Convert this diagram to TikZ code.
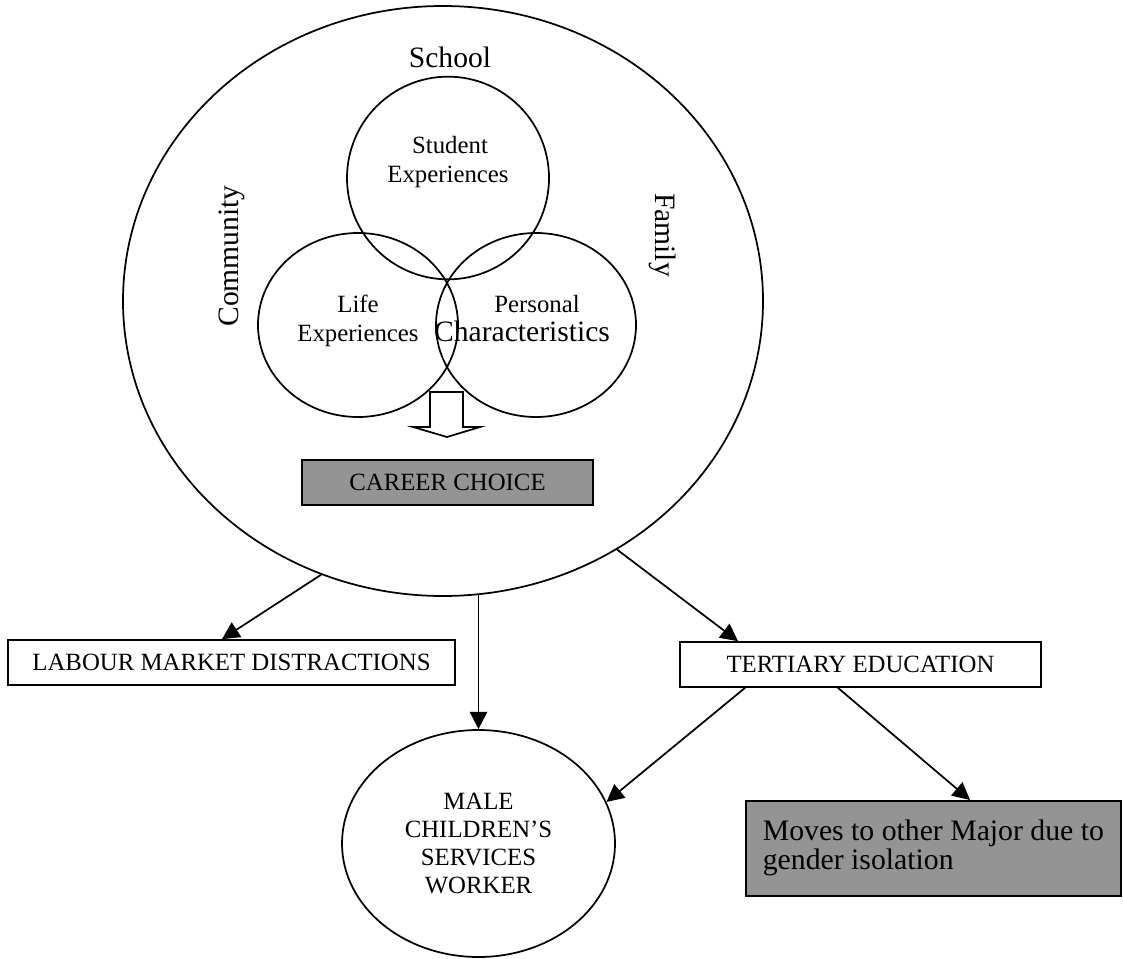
\documentclass[tikz,border=0pt]{standalone}
\usepackage{fontspec}
\setmainfont{Liberation Serif}
\usetikzlibrary{shapes.geometric,arrows.meta,calc}
\begin{document}
\begin{tikzpicture}[x=0.75pt,y=-0.75pt,
  line width=1.3pt,
  venn/.style={draw, ellipse, inner sep=0pt},
  bigtxt/.style={font=\fontsize{22.2pt}{26pt}\selectfont, inner sep=0pt},
  txt/.style={font=\fontsize{18.6pt}{21.2pt}\selectfont, inner sep=0pt},
  outbox/.style={draw, rectangle, minimum height=33.75pt, inner sep=0pt, font=\fontsize{18.6pt}{21.2pt}\selectfont},
  shaded/.style={fill=black!42},
  arr/.style={-{Triangle[length=13pt,width=13pt]}}
]
\useasboundingbox (0,0) rectangle (1123,959);

% outer environment
\node[venn, minimum width=480pt, minimum height=442.5pt] (env) at (443,301) {};

% Venn circles
\node[venn, minimum width=151.5pt, minimum height=152pt] (stu) at (448,178) {};
\node[venn, minimum width=150pt, minimum height=138pt] (life) at (358,325) {};
\node[venn, minimum width=150pt, minimum height=138pt] (pers) at (536,325) {};

% labels
\node[bigtxt, anchor=base] (school) at (450,68) {School};
\node[bigtxt, rotate=90] (comm) at (232,256) {Community};
\node[bigtxt, rotate=-90] (fam) at (663,235) {Family};
\node[txt, anchor=base] (stu1) at (450,154) {Student};
\node[txt, anchor=base] (stu2) at (448,183) {Experiences};
\node[txt, anchor=base] (life1) at (358,312) {Life};
\node[txt, anchor=base] (life2) at (358,341) {Experiences};
\node[txt, anchor=base] (pers1) at (537,312) {Personal};
\node[bigtxt, anchor=base] (pers2) at (522,341) {Characteristics};

% hollow arrow
\draw[fill=white, line join=miter] (430,392) -- (463,392) -- (463,427) -- (480,427) -- (447,437) -- (413,427) -- (430,427) -- cycle;

% career choice
\node[outbox, shaded, minimum width=218.25pt] (career) at (447.5,482.5) {CAREER CHOICE};

% outcomes
\node[outbox, minimum width=335.25pt] (labour) at (231.5,662.5) {LABOUR MARKET DISTRACTIONS};
\node[outbox, minimum width=270.75pt] (tert) at (860.5,664.5) {TERTIARY EDUCATION};
\node[draw, ellipse, txt, align=center, minimum width=204.75pt, minimum height=170.25pt] (male) at (478.5,843.5) {MALE\\CHILDREN’S\\SERVICES\\WORKER};
\node[draw, shaded, anchor=north west, align=left, inner sep=0pt, minimum width=281.25pt, minimum height=71.25pt, font=\fontsize{22.3pt}{21.75pt}\selectfont] (moves) at (745,800) {Moves to other Major due to\\gender isolation};

% connectors
\draw[arr] (env.246) -- ($(labour.north)+(-9.5,0)$);
\draw[arr] (male.north |- env.277) -- (male.north);
\draw[arr] (env.305) -- ($(tert.north)+(-122.5,0)$);
\draw[arr] ($(tert.south)+(-115.5,0)$) -- (male.18);
\draw[arr] ($(tert.south)+(-22.5,0)$) -- ($(moves.north west)+(225,0)$);
\end{tikzpicture}
\end{document}
